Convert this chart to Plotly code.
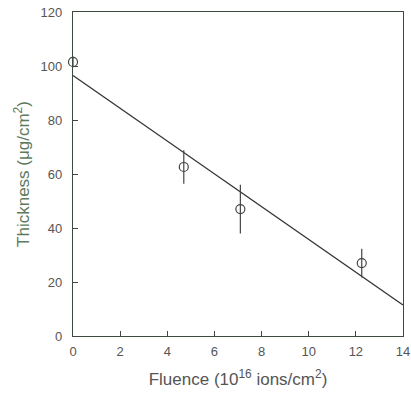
import plotly.graph_objects as go

fluence = [0.0, 4.7, 7.1, 12.25]
thickness = [101.5, 62.6, 47.0, 27.0]
thickness_err = [2.0, 6.2, 9.0, 5.3]
fit_x = [0.0, 14.0]
fit_y = [96.5, 11.5]
x_ticks = [0, 2, 4, 6, 8, 10, 12, 14]
y_ticks = [0, 20, 40, 60, 80, 100, 120]

axis_col = "#3d4a3d"
label_col = "#555555"
title_col = "#5d7a5d"

fig = go.Figure()
fig.add_trace(go.Scatter(x=fit_x, y=fit_y, mode="lines",
                         line=dict(color="#333333", width=1.3), cliponaxis=False))
fig.add_trace(go.Scatter(x=fluence, y=thickness, mode="markers",
                         marker=dict(symbol="circle-open", size=9, color="#444444",
                                     line=dict(width=1.2)),
                         error_y=dict(type="data", array=thickness_err, width=0,
                                      color="#444444", thickness=1.2),
                         cliponaxis=False))

font = "Liberation Sans, Arial, sans-serif"
fig.update_layout(
    width=411, height=396, showlegend=False,
    plot_bgcolor="white", paper_bgcolor="white",
    margin=dict(l=73, r=8, t=12, b=60),
    font=dict(family=font, color=label_col, size=13),
    xaxis=dict(range=[0, 14], tickvals=x_ticks, ticks="inside", ticklen=5,
               tickcolor=axis_col, showline=True, linecolor=axis_col, linewidth=1.3,
               mirror=True, showgrid=False, zeroline=False, automargin=False,
               ticklabelstandoff=3, ticklabeloverflow="allow",
               tickfont=dict(size=13, color=label_col),
               title=dict(text="Fluence (10<sup>16</sup> ions/cm<sup>2</sup>)",
                          font=dict(size=17, color=label_col))),
    yaxis=dict(range=[0, 120], tickvals=y_ticks, ticks="inside", ticklen=5,
               tickcolor=axis_col, showline=True, linecolor=axis_col, linewidth=1.3,
               mirror=True, showgrid=False, zeroline=False, automargin=False,
               ticklabelstandoff=7, ticklabeloverflow="allow",
               tickfont=dict(size=13, color=label_col),
               title=dict(text="Thickness (μg/cm<sup>2</sup>)",
                          font=dict(size=17, color=title_col), standoff=6)),
)
fig.write_html("out.html", config={"displayModeBar": False},
               post_script="document.body.style.margin='0';document.body.style.overflow='hidden';")
